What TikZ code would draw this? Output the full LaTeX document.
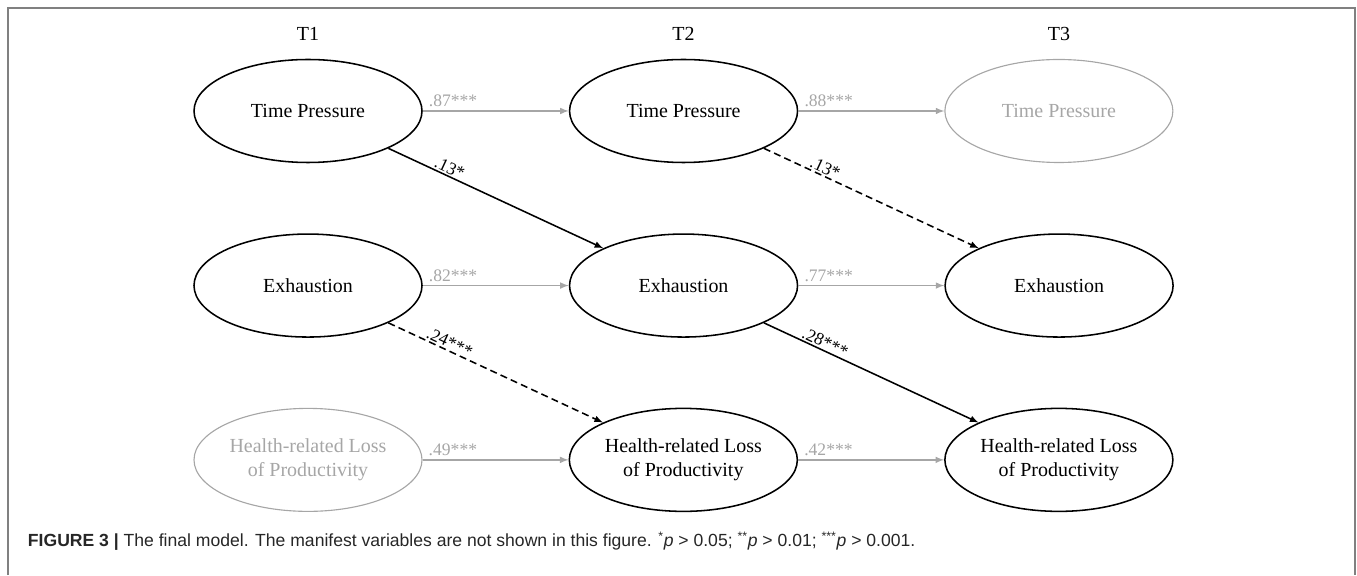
\documentclass[tikz,border=0pt]{standalone}
\usepackage{fontspec}
\setmainfont{Liberation Serif}
\setsansfont{Liberation Sans}
\usetikzlibrary{positioning}
\usetikzlibrary{shapes.geometric}
\tikzset{
  every edge/.append style={line width=1.1pt},
  latent/.style={ellipse,draw,line width=1.1pt,inner sep=0pt,minimum width=5.7cm,
    minimum height=2.575cm,align=center,font=\fontsize{14.2}{17}\selectfont},
  faded/.style={black!35,line width=0.8pt},
  reg/.style={-latex},
  nonsig/.style={dash pattern=on 5pt off 3pt},
  coef/.style={font=\fontsize{12.5}{14}\selectfont,inner sep=1pt},
  stab/.style={coef,black!35,pos=0,anchor=south west,xshift=0.1cm,yshift=0.05cm},
  timept/.style={font=\fontsize{14.2}{17}\selectfont}
}

\begin{document}
\begin{tikzpicture}
  \useasboundingbox (0,0) rectangle (33.925,14.375);
  \draw[gray,line width=1pt] (0.2,0) |- (33.875,14.175) -- (33.875,0);
  % latent variables
  \node (tp1) at (7.7,11.6) [latent] {Time Pressure};
  \node (tp2) [latent,right=3.65cm of tp1] {Time Pressure};
  \node (tp3) [latent,faded,right=3.65cm of tp2] {Time Pressure};
  \node (ex1) [latent,below=1.75cm of tp1] {Exhaustion};
  \node (ex2) [latent,right=3.65cm of ex1] {Exhaustion};
  \node (ex3) [latent,right=3.65cm of ex2] {Exhaustion};
  \node (hl1) [latent,faded,below=1.75cm of ex1] {Health-related Loss\\of Productivity};
  \node (hl2) [latent,right=3.65cm of hl1] {Health-related Loss\\of Productivity};
  \node (hl3) [latent,right=3.65cm of hl2] {Health-related Loss\\of Productivity};
  % time points
  \node (t1) at (tp1 |- 0,13.525) [timept] {T1};
  \node (t2) at (tp2 |- 0,13.525) [timept] {T2};
  \node (t3) at (tp3 |- 0,13.525) [timept] {T3};
  % stabilities
  \path (tp1) edge[reg,black!35] node[stab] {.87***} (tp2)
        (tp2) edge[reg,black!35] node[stab] {.88***} (tp3)
        (ex1) edge[reg,black!35] node[stab] {.82***} (ex2)
        (ex2) edge[reg,black!35] node[stab] {.77***} (ex3)
        (hl1) edge[reg,black!35] node[stab] {.49***} (hl2)
        (hl2) edge[reg,black!35] node[stab] {.42***} (hl3);
  % cross-lagged effects
  \path (tp1) edge[reg] node[coef,pos=0.27,sloped,above] {.13*} (ex2)
        (tp2) edge[reg,nonsig] node[coef,pos=0.27,sloped,above] {.13*} (ex3)
        (ex1) edge[reg,nonsig] node[coef,pos=0.27,sloped,above] {.24***} (hl2)
        (ex2) edge[reg] node[coef,pos=0.27,sloped,above] {.28***} (hl3);
  \node (cap) at (0.575,0.85) [anchor=west,black!85,font=\sffamily\fontsize{12.5}{14}\selectfont]
    {\textbf{FIGURE 3 \textbar} The final model. The manifest variables are not shown in this figure.
     \textsuperscript{*}\textit{p} > 0.05; \textsuperscript{**}\textit{p} > 0.01; \textsuperscript{***}\textit{p} > 0.001.};
\end{tikzpicture}
\end{document}
